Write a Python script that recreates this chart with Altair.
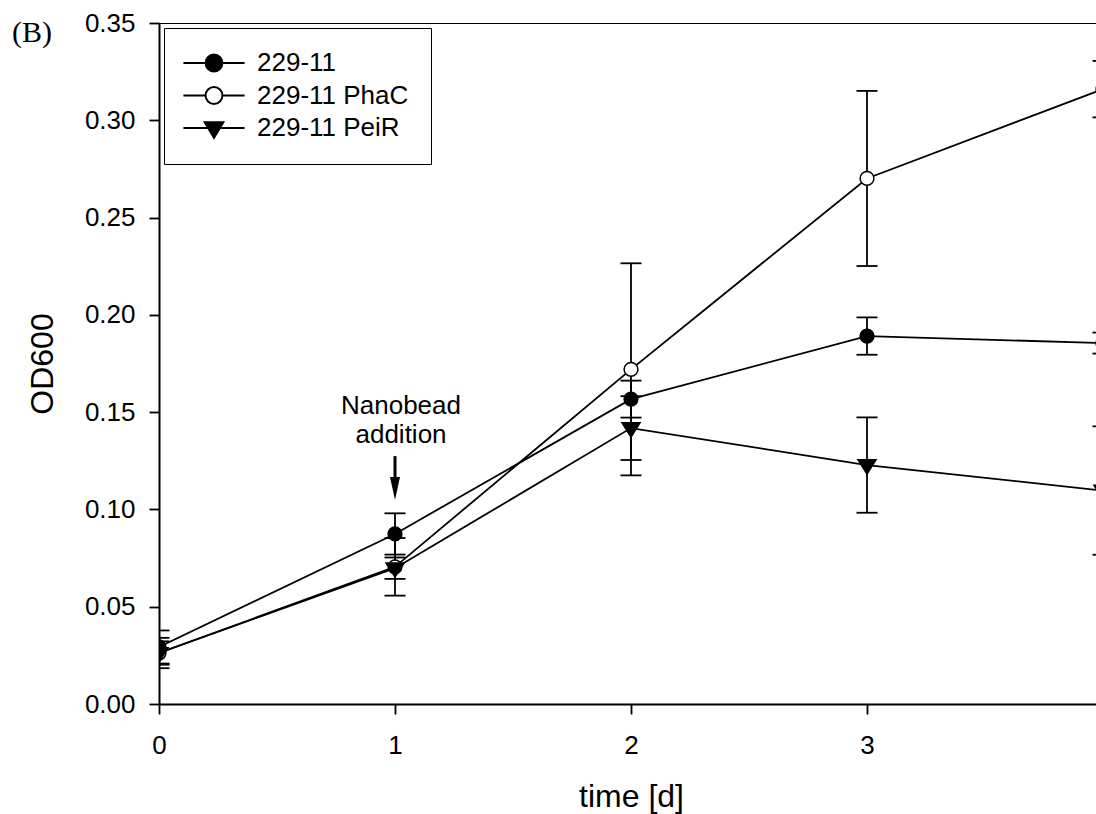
import altair as alt
import pandas as pd

# ---------------- data ----------------
days = [0, 1, 2, 3, 4]
series_names = ["229-11", "229-11 PhaC", "229-11 PeiR"]

od_wt = [0.0293, 0.0874, 0.1567, 0.1891, 0.1855]
err_wt = [0.0085, 0.0106, 0.0095, 0.0096, 0.0054]

od_phac = [0.0262, 0.0705, 0.1720, 0.2701, 0.3160]
err_phac = [0.0078, 0.0148, 0.0545, 0.0450, 0.0145]

od_peir = [0.0262, 0.0698, 0.1418, 0.1228, 0.1097]
err_peir = [0.0060, 0.0055, 0.0164, 0.0245, 0.0330]

x_ticks = [0, 1, 2, 3]
y_ticks = [0.0, 0.05, 0.10, 0.15, 0.20, 0.25, 0.30, 0.35]
x_domain = [0, 3.9703]
y_domain = [0, 0.35]

annot_lines = ["Nanobead", "addition"]
annot_x = [1]
annot_y = [0.149]
arrow_top = [0.1274]
arrow_head = [0.1108]

# ---------------- tables ----------------
rows = []
for name, ods, errs in zip(series_names, [od_wt, od_phac, od_peir], [err_wt, err_phac, err_peir]):
    for d, v, e in zip(days, ods, errs):
        rows.append({"day": d, "series": name, "od": v, "lo": v - e, "hi": v + e})
df = pd.DataFrame(rows)

ann_df = pd.DataFrame({"x": annot_x, "y": annot_y, "label": ["\n".join(annot_lines)]})
arrow_df = pd.DataFrame({"x": annot_x, "top": arrow_top, "head": arrow_head})
border_df = pd.DataFrame({"k": [0]})

FONT = "Liberation Sans"

x_scale = alt.Scale(domain=x_domain, nice=False, zero=False)
y_scale = alt.Scale(domain=y_domain, nice=False)

x_axis = alt.Axis(
    values=x_ticks, format="d", title="time [d]", grid=False,
    labelFlush=False, labelOverlap=False, labelBound=False,
    tickSize=10, tickWidth=1.8, tickColor="black",
    domainWidth=2, domainColor="black",
    labelFont=FONT, labelFontSize=26, labelColor="black", labelPadding=18.5,
    titleFont=FONT, titleFontSize=32, titleFontWeight="normal", titleColor="black",
    titleX=472, titleY=77, titleAlign="center", titleBaseline="top", titleAngle=0,
)
y_axis = alt.Axis(
    values=y_ticks, format=".2f", title="OD600", grid=False,
    labelFlush=False, labelOverlap=False, labelBound=False,
    tickSize=10, tickWidth=1.8, tickColor="black",
    domainWidth=2, domainColor="black",
    labelFont=FONT, labelFontSize=26, labelColor="black", labelPadding=14,
    titleFont=FONT, titleFontSize=32, titleFontWeight="normal", titleColor="black",
    titleX=-100, titleY=340.5, titleAlign="center", titleBaseline="bottom", titleAngle=270,
)


def X(field):
    return alt.X(field, type="quantitative", scale=x_scale, axis=x_axis)


def Y(field):
    return alt.Y(field, type="quantitative", scale=y_scale, axis=y_axis)


TRI = "M-1.31,-0.76L1.31,-0.76L0,1.31Z"
LEG_FILLED = "M-3.6,0L-1,0M1,0L3.6,0M1,0A1,1,0,1,1,-1,0A1,1,0,1,1,1,0Z"
LEG_OPEN = ("M-3.6,0L-1,0M1,0L3.6,0M1,0A1,1,0,1,1,-1,0A1,1,0,1,1,1,0Z"
            "M0.985,0A0.985,0.985,0,1,0,-0.985,0A0.985,0.985,0,1,0,0.985,0Z")
LEG_TRI = "M-3.6,0L3.6,0M-1.12,-0.7L1.12,-0.7L0,1.18Z"
ARROW = "M-1,-2.3L1,-2.3L0,2.3Z"

base = alt.Chart(df)

border = alt.Chart(border_df).mark_rule(color="black", strokeWidth=2, clip=True).encode(
    x=alt.datum(0), x2=alt.datum(4), y=alt.datum(0.35)
)

lines = base.mark_line(color="black", strokeWidth=1.8, clip=True).encode(
    x=X("day"), y=Y("od"), detail="series:N", order="day:Q"
)

err_rules = base.mark_rule(color="black", strokeWidth=1.8, clip=True).encode(
    x=X("day"), y=Y("lo"), y2="hi:Q"
)
caps_lo = base.mark_tick(orient="horizontal", color="black", size=21, thickness=1.8,
                         opacity=1, clip=True).encode(x=X("day"), y=Y("lo"))
caps_hi = base.mark_tick(orient="horizontal", color="black", size=21, thickness=1.8,
                         opacity=1, clip=True).encode(x=X("day"), y=Y("hi"))

points = base.mark_point(filled=True, stroke="black", strokeWidth=1.5, size=190,
                         opacity=1, clip=True).encode(
    x=X("day"), y=Y("od"),
    shape=alt.Shape("series:N", scale=alt.Scale(domain=series_names, range=["circle", "circle", TRI]),
                    legend=None),
    fill=alt.Fill("series:N", scale=alt.Scale(domain=series_names, range=["black", "white", "black"]),
                  legend=None),
)

legend_layer = base.mark_point(filled=True, fill="black", stroke="black", strokeWidth=1.8,
                               opacity=0, clip=True).encode(
    x=X("day"), y=Y("od"),
    shape=alt.Shape(
        "series:N",
        scale=alt.Scale(domain=series_names, range=[LEG_FILLED, LEG_OPEN, LEG_TRI]),
        legend=alt.Legend(
            title=None, orient="none", legendX=5, legendY=5, padding=22,
            strokeColor="black", fillColor="white", cornerRadius=0,
            labelFont=FONT, labelFontSize=26, labelColor="black", labelLimit=500,
            labelOffset=30, symbolOffset=15, symbolSize=289,
            symbolStrokeWidth=1.8, symbolOpacity=1,
            rowPadding=6.5,
        ),
    ),
)

annotation = alt.Chart(ann_df).mark_text(
    font=FONT, fontSize=26, align="center", baseline="alphabetic",
    lineBreak="\n", lineHeight=29, dx=6, color="black"
).encode(x=X("x"), y=Y("y"), text="label:N")

arrow_shaft = alt.Chart(arrow_df).mark_rule(color="black", strokeWidth=3).encode(
    x=X("x"), y=Y("top"), y2="head:Q"
)
arrow_tip = alt.Chart(arrow_df).mark_point(shape=ARROW, size=100, filled=True,
                                           color="black", opacity=1).encode(
    x=X("x"), y=Y("head")
)

chart = alt.layer(
    border, lines, err_rules, caps_lo, caps_hi, points, legend_layer,
    annotation, arrow_shaft, arrow_tip
).resolve_scale(shape="independent").properties(
    width=937, height=681,
    autosize=alt.AutoSizeParams(type="none"),
    padding={"left": 159, "top": 23, "right": 0, "bottom": 110},
    title=alt.TitleParams(
        text="(B)", font="Liberation Serif", fontSize=30, fontWeight="normal",
        color="black", anchor="start", frame="group", orient="top", offset=0,
        dx=-147, dy=62, baseline="alphabetic",
    ),
).configure_view(stroke=None).configure_legend(strokeWidth=1.6).configure(background="white")

chart.save("out.html", embed_options={"renderer": "svg", "actions": False})
